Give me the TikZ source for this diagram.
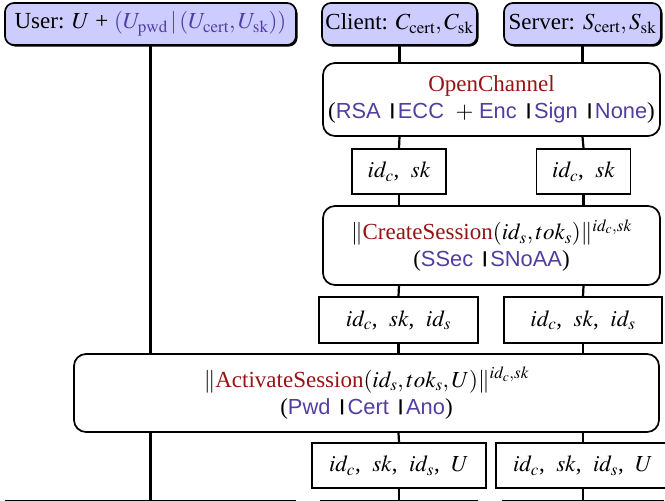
\documentclass[tikz,border=0pt]{standalone}
\usepackage{graphicx}
\usepackage{mathptmx}
\usepackage[no-math]{fontspec}
\setmainfont{Liberation Serif}
\newfontfamily\sansf[Scale=0.95]{Liberation Sans}
\usetikzlibrary{shadows}
\definecolor{actfill}{RGB}{204,204,255}
\definecolor{fred}{RGB}{150,20,20}
\definecolor{fpur}{RGB}{82,62,160}
\newcommand\opt[1]{\textcolor{fpur}{\sansf #1}}
\newcommand\vsep{\hspace{0.36em}\raisebox{0.12em}{\scalebox{1.25}[0.74]{\sansf|}}\hspace{0.08em}}
\newcommand\isep{,\enspace}
\begin{document}
\begin{tikzpicture}[x=1pt,y=-1pt,font=\fontsize{23}{27}\selectfont,
  actor/.style={draw, rounded corners=9pt, fill=actfill, line width=1.7pt,
    drop shadow={shadow xshift=1.6pt,shadow yshift=-1.6pt,fill=black,opacity=1},
    inner sep=0pt, align=center},
  proc/.style={draw, rounded corners=12pt, fill=white, line width=1.7pt, align=center, inner sep=0pt},
  statebox/.style={draw, fill=white, line width=1.7pt, inner sep=0pt},
  life/.style={line width=2.2pt}]
\useasboundingbox (0,0) rectangle (665,501);
\clip (0,0) rectangle (665,501);
% actors
\node[actor, minimum width=291pt, minimum height=42pt] (user) at (150.5,24)
  {User: $U$ + \textcolor{fpur}{$(U_{\mathrm{pwd}}\,|\,(U_{\mathrm{cert}},U_{\mathrm{sk}}))$}};
\node[actor, minimum width=155pt, minimum height=42pt] (client) at (399.5,24)
  {Client: $C_{\mathrm{cert}},C_{\mathrm{sk}}$};
\node[actor, minimum width=157pt, minimum height=42pt] (server) at (582.5,24)
  {Server: $S_{\mathrm{cert}},S_{\mathrm{sk}}$};
% OpenChannel
\node[proc, minimum width=337pt, minimum height=73pt] (open) at (491.5,99.5)
  {\textcolor{fred}{OpenChannel}\\(\opt{RSA}\vsep\opt{ECC} \ $+$ \opt{Enc}\vsep\opt{Sign}\vsep\opt{None})};
\node[statebox, minimum width=94pt, minimum height=45pt] (c1) at (399,171.5) {$id_c$\isep$sk$};
\node[statebox, minimum width=94pt, minimum height=45pt] (s1) at (583.5,171.5) {$id_c$\isep$sk$};
% CreateSession
\node[proc, minimum width=337pt, minimum height=79pt] (create) at (491.5,245.5)
  {$\|$\textcolor{fred}{CreateSession}$(id_s,tok_s)\|^{id_c,sk}$\\(\opt{SSec}\vsep\opt{SNoAA})};
\node[statebox, minimum width=159pt, minimum height=46pt] (c2) at (398.5,320) {$id_c$\isep$sk$\isep$id_s$};
\node[statebox, minimum width=158pt, minimum height=46pt] (s2) at (583,320) {$id_c$\isep$sk$\isep$id_s$};
% ActivateSession
\node[proc, minimum width=585pt, minimum height=78pt] (activate) at (366.5,393)
  {$\|$\textcolor{fred}{ActivateSession}$(id_s,tok_s,U)\|^{id_c,sk}$\\(\opt{Pwd}\vsep\opt{Cert}\vsep\opt{Ano})};
\node[statebox, minimum width=174pt, minimum height=45pt] (c3) at (399,465.5) {$id_c$\isep$sk$\isep$id_s$\isep$U$};
\node[statebox, minimum width=174pt, minimum height=45pt] (s3) at (583,465.5) {$id_c$\isep$sk$\isep$id_s$\isep$U$};
% next boxes (cut off)
\node[statebox, minimum width=289pt, minimum height=40pt, anchor=north] (uend) at (150.5,500) {};
\node[statebox, minimum width=156pt, minimum height=40pt, anchor=north] (cend) at (399,500) {};
\node[statebox, minimum width=160pt, minimum height=40pt, anchor=north] (send) at (583,500) {};
% lifelines
\draw[life] (user.south) -- (user.south |- activate.north);
\draw[life] (user.south |- activate.south) -- (uend.north);
\draw[life] (client.south) -- (client.south |- open.north);
\draw[life] (client.south |- open.south) -- (c1.north);
\draw[life] (c1.south) -- (c1.south |- create.north);
\draw[life] (c1.south |- create.south) -- (c2.north);
\draw[life] (c2.south) -- (c2.south |- activate.north);
\draw[life] (c2.south |- activate.south) -- (c3.north);
\draw[life] (c3.south) -- (cend.north);
\draw[life] (server.south) -- (server.south |- open.north);
\draw[life] (server.south |- open.south) -- (s1.north);
\draw[life] (s1.south) -- (s1.south |- create.north);
\draw[life] (s1.south |- create.south) -- (s2.north);
\draw[life] (s2.south) -- (s2.south |- activate.north);
\draw[life] (s2.south |- activate.south) -- (s3.north);
\draw[life] (s3.south) -- (send.north);
\end{tikzpicture}
\end{document}
